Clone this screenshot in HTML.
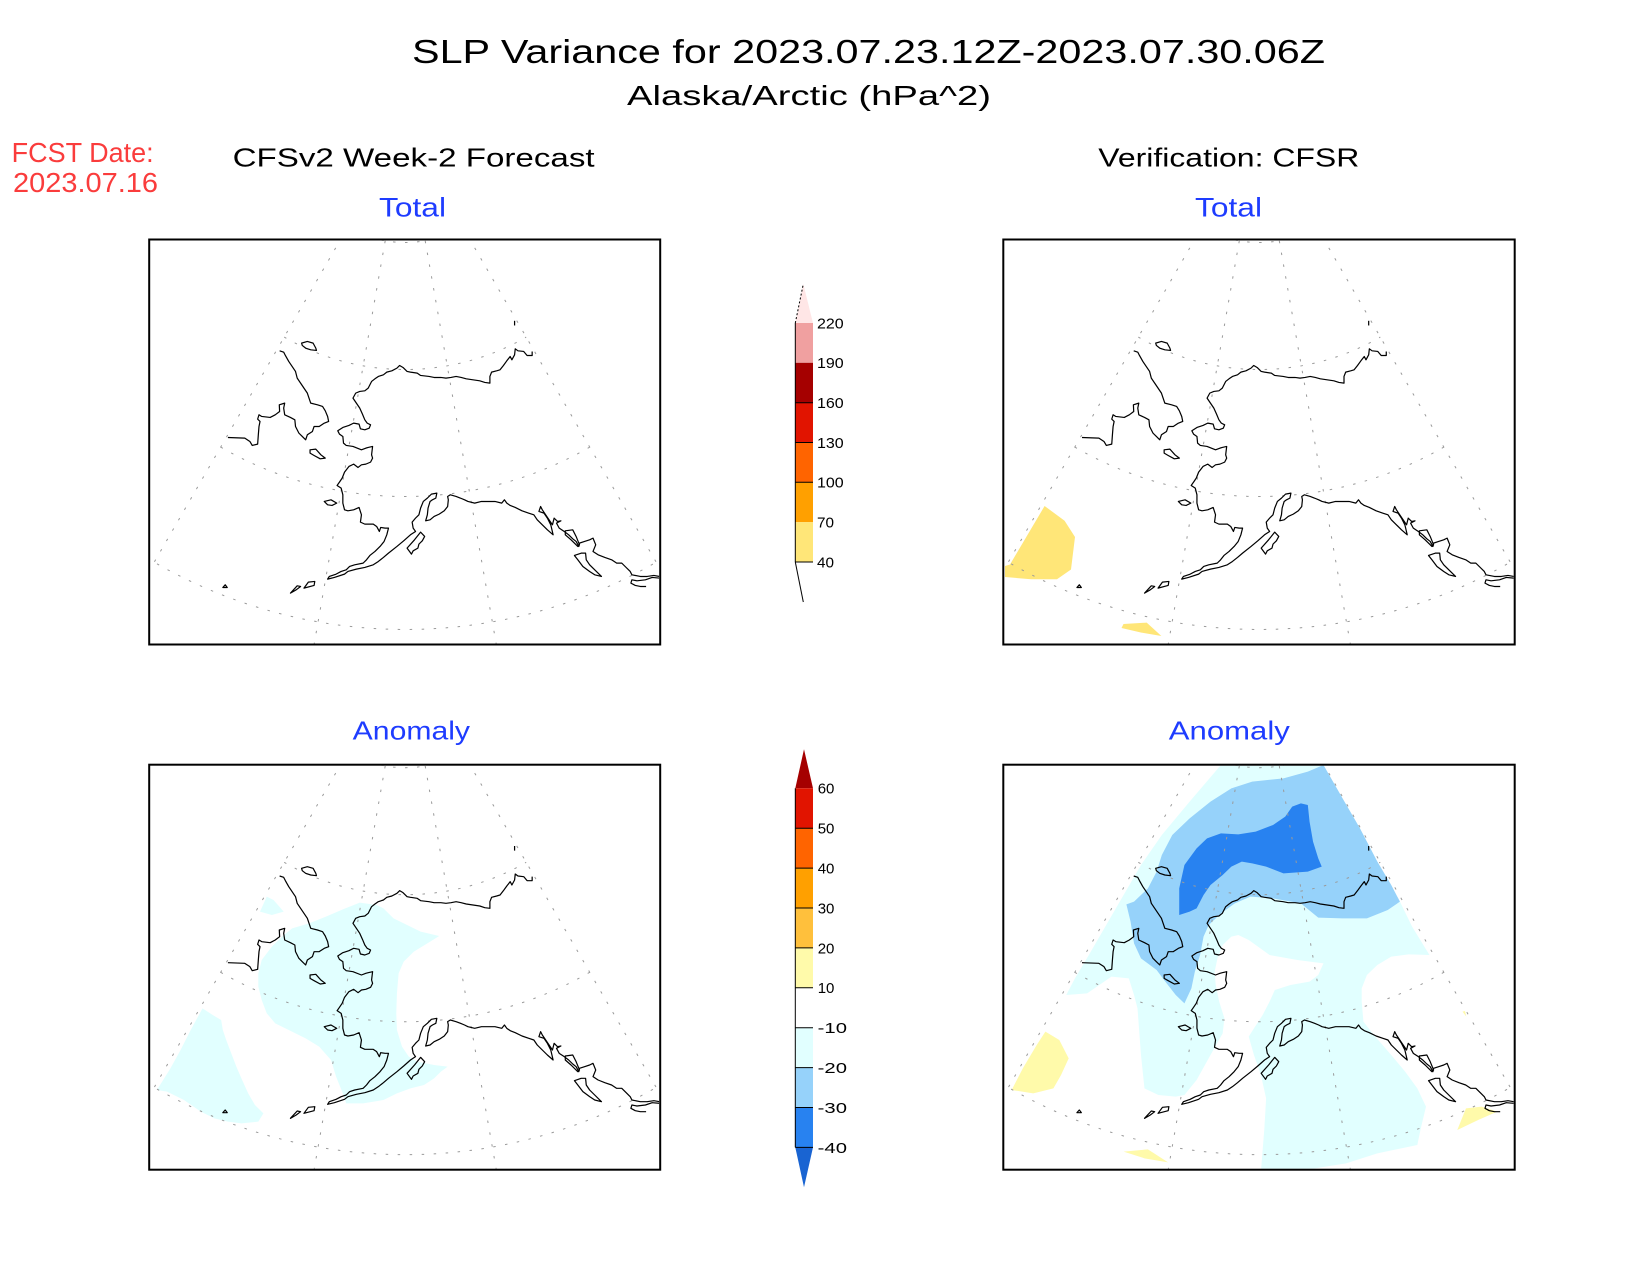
<!DOCTYPE html>
<html>
<head>
<meta charset="utf-8">
<style>
html,body{margin:0;padding:0;background:#fff;width:1650px;height:1275px;overflow:hidden}
svg{display:block}
</style>
</head>
<body>
<svg width="1650" height="1275" viewBox="0 0 1650 1275" xmlns="http://www.w3.org/2000/svg" font-family="'Liberation Sans', sans-serif">
<defs>
  <clipPath id="cp1"><rect x="150" y="240.5" width="509" height="403"/></clipPath>
  <clipPath id="cp2"><rect x="1004.3" y="240.5" width="509.4" height="403"/></clipPath>
  <clipPath id="cp3"><rect x="150" y="765.7" width="509" height="403"/></clipPath>
  <clipPath id="cp4"><rect x="1004.3" y="765.7" width="509.4" height="403"/></clipPath>

  <g id="grat" fill="none" stroke="#9a9a9a" stroke-width="1" stroke-dasharray="2.5 9.5">
    <path d="M198.5,-12.4 A115,115 0 0 0 313.5,-12.4"/>
    <path d="M135,97.6 A242,242 0 0 0 377,97.6"/>
    <path d="M71.5,207.6 A369,369 0 0 0 440.5,207.6"/>
    <path d="M-2.5,318.3 A502,502 0 0 0 514.5,318.3"/>
    <path d="M198.5,-12.4 L5,322.7"/>
    <path d="M313.5,-12.4 L507,322.7"/>
    <path d="M236,1.3 L158.8,439.5"/>
    <path d="M276,1.3 L353.2,439.5"/>
  </g>

  <g id="coast" fill="none" stroke="#000" stroke-width="3.6" stroke-linejoin="round">
    <path d="M260,608 L310,610 325,620 332,632 348,628 350,600 352,575 355,560 348,553 352,540 360,545 385,548 400,540 413,530 412,510 428,505 425,520 428,540 445,548 458,555 460,575 470,595 480,605 490,615 495,600 510,590 515,575 530,575 545,565 558,560 555,545 548,528 540,515 525,510 505,505 500,490 495,475 485,460 475,445 465,430 460,410 450,395 440,380 430,362 425,352 413,348"/>
    <path d="M478,325 L495,320 512,325 520,340 522,347 505,345 490,340 480,332 Z"/>
    <path d="M1160,350 L1160,362 1145,362 1135,350 1118,348 1110,342 1108,360 1100,375 1095,365 1085,378 1075,392 1065,405 1055,408 1040,412 1035,425 1035,445 1020,443 1005,438 985,435 965,432 950,428 935,425 920,428 905,430 890,428 870,428 855,425 830,422 820,415 800,412 790,410 778,398 768,392 760,400 745,408 730,412 720,420 705,425 695,432 685,440 675,460 665,468 650,470 638,475 630,490 640,505 650,520 658,538 665,555 672,565 682,570 678,580 665,585 652,582 648,568 632,565 618,572 600,578 585,588 590,598 600,605 602,625 610,632 630,635 655,645 668,640 675,638 688,635 685,660 688,670 682,682 668,688 655,690 645,698 632,688 618,695 605,712 598,730 590,742 583,752 595,760 600,780 600,805 605,825 615,828 632,825 648,818 655,840 652,862 665,868 690,868 700,875 708,890 712,878 725,880 735,880 730,900 722,920 710,935 695,950 680,962 670,975 660,985 635,990 620,995 610,1005 595,1010 580,1018 560,1025 555,1033 575,1028 605,1018 615,1010 640,1003 665,998 690,990 705,980 720,968 735,955 760,935 780,918 800,900 815,890 808,880 805,862 815,850 825,840 830,820 838,800 850,790 862,778 878,775 875,790 865,795 858,800 852,820 850,840 845,858 858,855 870,845 885,838 900,828 910,815 912,795 910,785 918,780 935,785 948,790 960,795 970,800 990,805 1010,800 1030,800 1050,800 1070,805 1078,795 1085,805 1095,812 1110,818 1130,828 1150,835 1165,840 1175,855 1190,870 1205,885 1222,900 1215,870 1205,850 1195,835 1180,830 1185,815 1190,825 1200,840 1210,855 1220,870 1225,850 1235,860 1245,858 1232,865 1240,880 1255,890 1268,900 1280,912 1290,920 1298,935 1300,925 1315,920 1330,915 1340,910 1348,930 1340,950 1355,960 1375,968 1395,975 1410,985 1425,985 1440,1000 1450,1010 1455,1020 1480,1025 1500,1025 1520,1022 1537,1025"/>
    <path d="M1108,258 L1108,272"/>
    <path d="M1537,1030 L1515,1028 1495,1035 1470,1038 1455,1035 1452,1045 1465,1052 1480,1055 1497,1055"/>
    <path d="M503,645 L520,643 535,660 548,670 533,672 515,662 503,655 Z"/>
    <path d="M545,800 L565,795 582,805 568,812 555,810 Z"/>
    <path d="M790,940 L812,915 830,892 842,905 835,918 825,928 822,940 808,948 803,958 Z"/>
    <path d="M445,1075 L465,1053 475,1055 462,1065 Z"/>
    <path d="M485,1060 L498,1042 517,1040 515,1052 Z"/>
    <path d="M245,1058 L258,1058 252,1050 Z"/>
    <path d="M1258,888 L1280,885 1290,905 1300,930 1295,935 1275,915 1258,900 Z"/>
    <path d="M1285,962 L1305,955 1318,955 1320,975 1330,990 1345,1005 1365,1025 1345,1020 1330,1010 1310,995 1295,975 Z"/>
  </g>
</defs>

<!-- Titles -->
<text x="412" y="63" font-size="33.5" fill="#000" textLength="913" lengthAdjust="spacingAndGlyphs">SLP Variance for 2023.07.23.12Z-2023.07.30.06Z</text>
<text x="627" y="105" font-size="28" fill="#000" textLength="364" lengthAdjust="spacingAndGlyphs">Alaska/Arctic (hPa^2)</text>
<text x="11.6" y="162" font-size="28" fill="#fa3c3c" textLength="142" lengthAdjust="spacingAndGlyphs">FCST Date:</text>
<text x="13" y="192" font-size="28" fill="#fa3c3c" textLength="145" lengthAdjust="spacingAndGlyphs">2023.07.16</text>
<text x="232.6" y="166.7" font-size="26" fill="#000" textLength="362" lengthAdjust="spacingAndGlyphs">CFSv2 Week-2 Forecast</text>
<text x="1098.3" y="166.7" font-size="26" fill="#000" textLength="261" lengthAdjust="spacingAndGlyphs">Verification: CFSR</text>
<text x="379" y="216.7" font-size="27" fill="#1e3cff" textLength="67" lengthAdjust="spacingAndGlyphs">Total</text>
<text x="1195" y="216.7" font-size="27" fill="#1e3cff" textLength="67" lengthAdjust="spacingAndGlyphs">Total</text>
<text x="352.7" y="739.3" font-size="26" fill="#1e3cff" textLength="117.3" lengthAdjust="spacingAndGlyphs">Anomaly</text>
<text x="1168.8" y="739.3" font-size="26" fill="#1e3cff" textLength="121" lengthAdjust="spacingAndGlyphs">Anomaly</text>

<!-- Panel 1 -->
<g clip-path="url(#cp1)">
  <use href="#grat" transform="translate(149.2,239.5)"/>
  <use href="#coast" transform="translate(140,234.8) scale(0.33807,0.33333)"/>
</g>
<rect x="149.2" y="239.5" width="511" height="405" fill="none" stroke="#000" stroke-width="2"/>

<!-- Panel 2 -->
<g clip-path="url(#cp2)">
  <path d="M1044.6,506 L1064.6,520.7 1075,537 1071,569.5 1057,579.3 1031,579.3 1005,577 1005,566 1010,564.5 Z" fill="#ffe678"/>
  <path d="M1123.5,624 L1146.7,622.6 1161.4,636 1141.4,632.6 1121.5,628 Z" fill="#ffe678"/>
  <use href="#grat" transform="translate(1003.3,239.5)"/>
  <use href="#coast" transform="translate(994.1,234.8) scale(0.33807,0.33333)"/>
</g>
<rect x="1003.3" y="239.5" width="511.4" height="405" fill="none" stroke="#000" stroke-width="2"/>

<!-- Panel 3 -->
<g clip-path="url(#cp3)">
  <g transform="translate(140,760) scale(0.33807,0.33333)" fill="#e1ffff">
    <path d="M375,410 L395,420 425,455 390,465 355,455 Z"/>
    <path d="M350,640 L360,600 390,560 420,530 450,505 500,490 550,470 600,448 650,428 700,435 720,445 750,475 790,495 830,515 885,528 850,550 810,575 780,605 765,640 760,700 758,760 760,810 775,860 795,890 820,905 870,915 910,920 890,935 870,955 840,975 800,985 760,1000 720,1020 660,1030 610,1030 600,1000 580,950 565,900 530,860 490,835 440,810 400,790 375,760 360,720 350,680 Z"/>
    <path d="M185,745 L215,765 240,780 245,810 255,840 270,880 285,920 300,955 320,1000 340,1035 365,1060 350,1085 300,1090 260,1085 220,1075 180,1055 130,1020 80,995 50,990 90,925 120,870 150,810 Z"/>
  </g>
  <use href="#grat" transform="translate(149.2,764.7)"/>
  <use href="#coast" transform="translate(140,760) scale(0.33807,0.33333)"/>
</g>
<rect x="149.2" y="764.7" width="511" height="405" fill="none" stroke="#000" stroke-width="2"/>

<!-- Panel 4 -->
<g clip-path="url(#cp4)">
  <g transform="translate(995,755) scale(0.34758,0.33333)">
    <path fill="#e1ffff" d="M650,30 L945,30 1000,130 1050,220 1100,320 1165,440 1200,515 1250,600 1190,598 1140,605 1100,630 1070,660 1055,700 1055,740 1060,800 1090,840 1140,900 1180,950 1215,1000 1240,1055 1225,1120 1215,1170 1100,1195 1010,1225 920,1240 765,1250 775,1120 780,1030 765,960 745,900 730,845 745,820 770,780 790,740 805,705 850,690 905,680 930,660 945,625 870,615 790,600 730,555 700,540 680,545 655,570 640,610 632,650 635,690 645,740 660,790 655,835 620,900 580,975 545,1020 520,1025 470,1020 430,1000 420,900 415,830 410,760 400,720 385,670 335,665 300,690 265,715 205,720 230,670 270,600 320,510 370,420 420,330 480,240 560,140 Z"/>
    <path fill="#96d2fa" d="M740,80 L830,70 900,50 945,30 1000,130 1050,220 1100,320 1140,390 1165,440 1130,465 1070,490 1000,490 930,488 880,445 800,430 735,425 690,445 650,475 615,510 600,545 590,600 575,650 565,700 545,745 520,720 490,680 465,645 420,610 400,565 390,500 378,448 400,440 440,400 465,350 480,300 510,240 560,190 620,140 680,100 Z"/>
    <path fill="#2882f0" d="M530,480 L530,400 545,330 580,280 610,250 650,235 700,238 750,230 800,210 835,185 855,155 880,145 900,150 905,200 915,260 930,310 940,335 900,350 830,355 780,335 740,325 710,320 680,335 655,360 620,390 600,420 580,460 560,470 Z"/>
    <path fill="#fffaaa" d="M145,830 L185,855 212,910 190,960 168,1000 110,1015 48,1005 80,940 120,870 Z"/>
    <path fill="#fffaaa" d="M370,1190 L440,1183 498,1222 430,1210 Z"/>
    <path fill="#fffaaa" d="M1330,1125 L1355,1060 1400,1055 1445,1070 1390,1095 Z"/>
    <path fill="#fffaaa" d="M1345,770 L1352,768 1356,785 Z"/>
  </g>
  <use href="#grat" transform="translate(1003.3,764.7)"/>
  <use href="#coast" transform="translate(994.1,760) scale(0.33807,0.33333)"/>
</g>
<rect x="1003.3" y="764.7" width="511.4" height="405" fill="none" stroke="#000" stroke-width="2"/>

<!-- Colorbar 1 (Total) -->
<g>
  <polygon points="795.3,323 813,323 803.3,284" fill="#ffe6e6"/>
  <line x1="795.3" y1="323" x2="803.3" y2="284" stroke="#000" stroke-width="1" stroke-dasharray="2 2"/>
  <rect x="795.3" y="323" width="17.7" height="39.8" fill="#f0a0a0"/>
  <rect x="795.3" y="362.8" width="17.7" height="39.9" fill="#a50000"/>
  <rect x="795.3" y="402.7" width="17.7" height="39.8" fill="#e11400"/>
  <rect x="795.3" y="442.5" width="17.7" height="39.8" fill="#ff6400"/>
  <rect x="795.3" y="482.3" width="17.7" height="39.9" fill="#ffa000"/>
  <rect x="795.3" y="522.2" width="17.7" height="39.8" fill="#ffe678"/>
  <g stroke="#000" stroke-width="1">
    <line x1="795.3" y1="323" x2="795.3" y2="562"/>
    <line x1="795.3" y1="402.7" x2="813" y2="402.7"/>
    <line x1="795.3" y1="442.5" x2="813" y2="442.5"/>
    <line x1="795.3" y1="482.3" x2="813" y2="482.3"/>
    <line x1="795.3" y1="562" x2="813" y2="562"/>
    <line x1="795.3" y1="562" x2="803.3" y2="602"/>
  </g>
  <g font-size="15" fill="#000">
    <text x="817" y="328.4" textLength="26.7" lengthAdjust="spacingAndGlyphs">220</text>
    <text x="817" y="368.2" textLength="26.7" lengthAdjust="spacingAndGlyphs">190</text>
    <text x="817" y="408.1" textLength="26.7" lengthAdjust="spacingAndGlyphs">160</text>
    <text x="817" y="447.9" textLength="26.7" lengthAdjust="spacingAndGlyphs">130</text>
    <text x="817" y="487.7" textLength="26.7" lengthAdjust="spacingAndGlyphs">100</text>
    <text x="817" y="527.6" textLength="17" lengthAdjust="spacingAndGlyphs">70</text>
    <text x="817" y="567.4" textLength="17" lengthAdjust="spacingAndGlyphs">40</text>
  </g>
</g>

<!-- Colorbar 2 (Anomaly) -->
<g>
  <polygon points="795.3,788.3 813,788.3 804,749.3" fill="#a50000"/>
  <rect x="795.3" y="788.3" width="17.7" height="39.9" fill="#e11400"/>
  <rect x="795.3" y="828.2" width="17.7" height="39.9" fill="#ff6400"/>
  <rect x="795.3" y="868.1" width="17.7" height="39.9" fill="#ffa000"/>
  <rect x="795.3" y="908" width="17.7" height="39.9" fill="#ffc03c"/>
  <rect x="795.3" y="947.9" width="17.7" height="39.9" fill="#fffaaa"/>
  <rect x="795.3" y="1027.7" width="17.7" height="39.9" fill="#e1ffff"/>
  <rect x="795.3" y="1067.6" width="17.7" height="39.9" fill="#96d2fa"/>
  <rect x="795.3" y="1107.5" width="17.7" height="39.9" fill="#2882f0"/>
  <polygon points="795.3,1147.4 813,1147.4 804,1187.3" fill="#1964d2"/>
  <g stroke="#000" stroke-width="1">
    <line x1="795.3" y1="788.3" x2="795.3" y2="1147.4"/>
    <line x1="795.3" y1="828.2" x2="813" y2="828.2"/>
    <line x1="795.3" y1="868.1" x2="813" y2="868.1"/>
    <line x1="795.3" y1="908" x2="813" y2="908"/>
    <line x1="795.3" y1="947.9" x2="813" y2="947.9"/>
    <line x1="795.3" y1="987.8" x2="813" y2="987.8"/>
    <line x1="795.3" y1="1027.7" x2="813" y2="1027.7"/>
    <line x1="795.3" y1="1067.6" x2="813" y2="1067.6"/>
    <line x1="795.3" y1="1107.5" x2="813" y2="1107.5"/>
    <line x1="795.3" y1="1147.4" x2="813" y2="1147.4"/>
  </g>
  <g font-size="15" fill="#000">
    <text x="817.7" y="793.7" textLength="16.7" lengthAdjust="spacingAndGlyphs">60</text>
    <text x="817.7" y="833.6" textLength="16.7" lengthAdjust="spacingAndGlyphs">50</text>
    <text x="817.7" y="873.5" textLength="16.7" lengthAdjust="spacingAndGlyphs">40</text>
    <text x="817.7" y="913.4" textLength="16.7" lengthAdjust="spacingAndGlyphs">30</text>
    <text x="817.7" y="953.3" textLength="16.7" lengthAdjust="spacingAndGlyphs">20</text>
    <text x="817.7" y="993.2" textLength="16.7" lengthAdjust="spacingAndGlyphs">10</text>
    <text x="817.7" y="1033.1" textLength="29.3" lengthAdjust="spacingAndGlyphs">-10</text>
    <text x="817.7" y="1073" textLength="29.3" lengthAdjust="spacingAndGlyphs">-20</text>
    <text x="817.7" y="1112.9" textLength="29.3" lengthAdjust="spacingAndGlyphs">-30</text>
    <text x="817.7" y="1152.8" textLength="29.3" lengthAdjust="spacingAndGlyphs">-40</text>
  </g>
</g>
</svg>
</body>
</html>
